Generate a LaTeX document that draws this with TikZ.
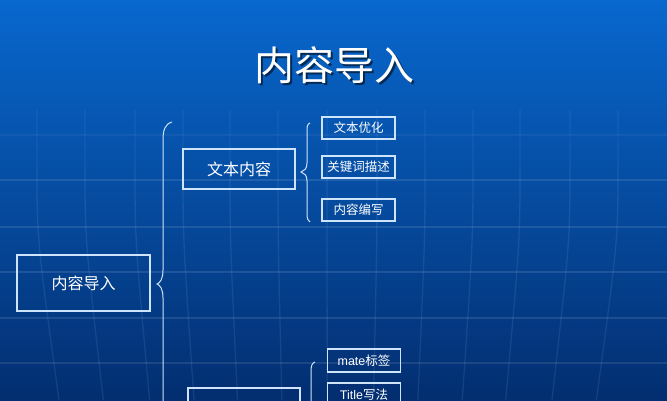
\documentclass[tikz,border=0pt]{standalone}
\usepackage{fontspec}
\newfontfamily\cjk{Noto Sans CJK SC}
\newfontfamily\latin{Liberation Sans}
\definecolor{bgtop}{RGB}{8,104,206}
\definecolor{bgmid}{RGB}{7,84,172}
\definecolor{bgbot}{RGB}{3,46,112}
\definecolor{boxline}{RGB}{205,228,250}
\tikzset{
  box/.style={draw=boxline, line width=1.2pt, text=white, inner sep=0pt,
    font=\cjk\fontsize{16}{16}\selectfont},
  sbox/.style={draw=boxline, line width=1.2pt, text=white, inner sep=0pt,
    minimum width=73pt, minimum height=22pt, font=\cjk\fontsize{12.5}{12.5}\selectfont},
  brace/.style={draw=boxline, line width=1pt},
  gridline/.style={draw=white, opacity=0.08, line width=1.3pt}
}

\begin{document}
\begin{tikzpicture}[x=1pt,y=-1pt]
      \shade [top color=bgtop, middle color=bgmid, bottom color=bgbot] (0,0) rectangle (667,400);
      \useasboundingbox (0,0) rectangle (667,400);
      \clip (0,0) rectangle (667,400);

      \foreach \y in {180,227,272,318,363}
        \draw [gridline, opacity=0.1] (0,\y) -- (667,\y);
      \draw [gridline, opacity=0.05] (0,135) -- (667,135);
      \foreach \x in {37,85,135,183,230,278,327,377,425,473,520,570,618} {
        \draw [gridline, opacity=0.04] (\x,110) -- (\x,165);
        \draw [gridline] (\x,165) .. controls (\x,240) .. ({\x-0.075*(\x-330)},400);
      }

      \node [text=black, opacity=0.55, font=\cjk\fontsize{40}{40}\selectfont] at (336,67) {内容导入};
      \node (title) [text=white, font=\cjk\fontsize{40}{40}\selectfont] at (334,65) {内容导入};

      \node (root) [box, minimum width=133pt, minimum height=56pt] at (83.5,283) {内容导入};
      \node (text) [box, minimum width=112pt, minimum height=40pt] at (239,169) {文本内容};
      \node (meta) [box, minimum width=112pt, minimum height=40pt] at (244,408) {};

      \node (t1) [sbox] at (358.5,128) {文本优化};
      \node (t2) [sbox] at (358.5,167) {关键词描述};
      \node (t3) [sbox] at (358.5,210) {内容编写};

      \node (m1) [sbox, minimum height=23pt] at (364,360.5) {{\latin mate}标签};
      \node (m2) [sbox, minimum height=23pt] at (364,394.5) {{\latin Title}写法};

      \draw [brace] (172,122) .. controls (165,124) and (163,130) .. (163,140) -- (163,270)
        .. controls (163,279) and (160,283) .. (157,284) .. controls (160,285) and (163,289) .. (163,298)
        -- (163,410);
      \draw [brace] (310,123) .. controls (307,124) and (307,127) .. (307,132) -- (307,163)
        .. controls (307,169) and (304,171) .. (301,172) .. controls (304,173) and (307,175) .. (307,181)
        -- (307,213) .. controls (307,219) and (308,221) .. (310,222);
      \draw [brace] (315,362) .. controls (312,363) and (311,366) .. (311,371) -- (311,410);
\end{tikzpicture}
\end{document}
